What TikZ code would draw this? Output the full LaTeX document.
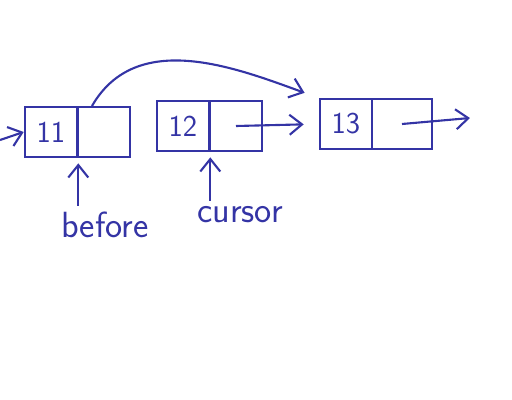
\documentclass[tikz,border=0pt]{standalone}
\usepackage{tikz}
\usetikzlibrary{arrows.meta}
\definecolor{ink}{RGB}{52,52,165}

\begin{document}
\begin{tikzpicture}[
            x=0.02cm, y=-0.02cm,
            cell/.style={draw=ink, line width=1.2pt, minimum width=1.05cm, minimum height=1.0cm, inner sep=0pt, text=ink, font=\LARGE\sffamily},
            link/.style={draw=ink, line width=1.2pt, -{Straight Barb[length=2.5mm, width=4mm]}},
            word/.style={text=ink, font=\huge\sffamily}
        ]
            \useasboundingbox (0, 0) rectangle (512, 400);
            % cells
            \node[cell] (d11) at (51, 132) {11};
            \node[cell] (p11) at (104, 132) {};
            \node[cell] (d12) at (183, 126) {12};
            \node[cell] (p12) at (236, 126) {};
            \node[cell] (d13) at (346, 124) {13};
            \node[cell, minimum width=1.2cm] (p13) at (402, 124) {};
            % free ends
            \coordinate (head) at (0, 140);
            \coordinate (nil) at (470, 118);
            % labels
            \node[word] (before) at (105, 225) {before};
            \node[word] (cursor) at (240, 215) {cursor};
            % links
            \draw[link] (head) -- (d11.west);
            \draw[link, shorten >=0.3cm] (p12.center) -- (d13.west);
            \draw[link] (p13.center) -- (nil);
            \draw[link, shorten >=0.3cm] ([xshift=-0.24cm]p11.north) to[out=60, in=160] (d13.north west);
            % pointers
            \draw[link, shorten >=3pt] (d11.south east |- before.north) -- (d11.south east);
            \draw[link, shorten >=3pt] (d12.south east |- cursor.north) -- (d12.south east);
        \end{tikzpicture}
\end{document}
